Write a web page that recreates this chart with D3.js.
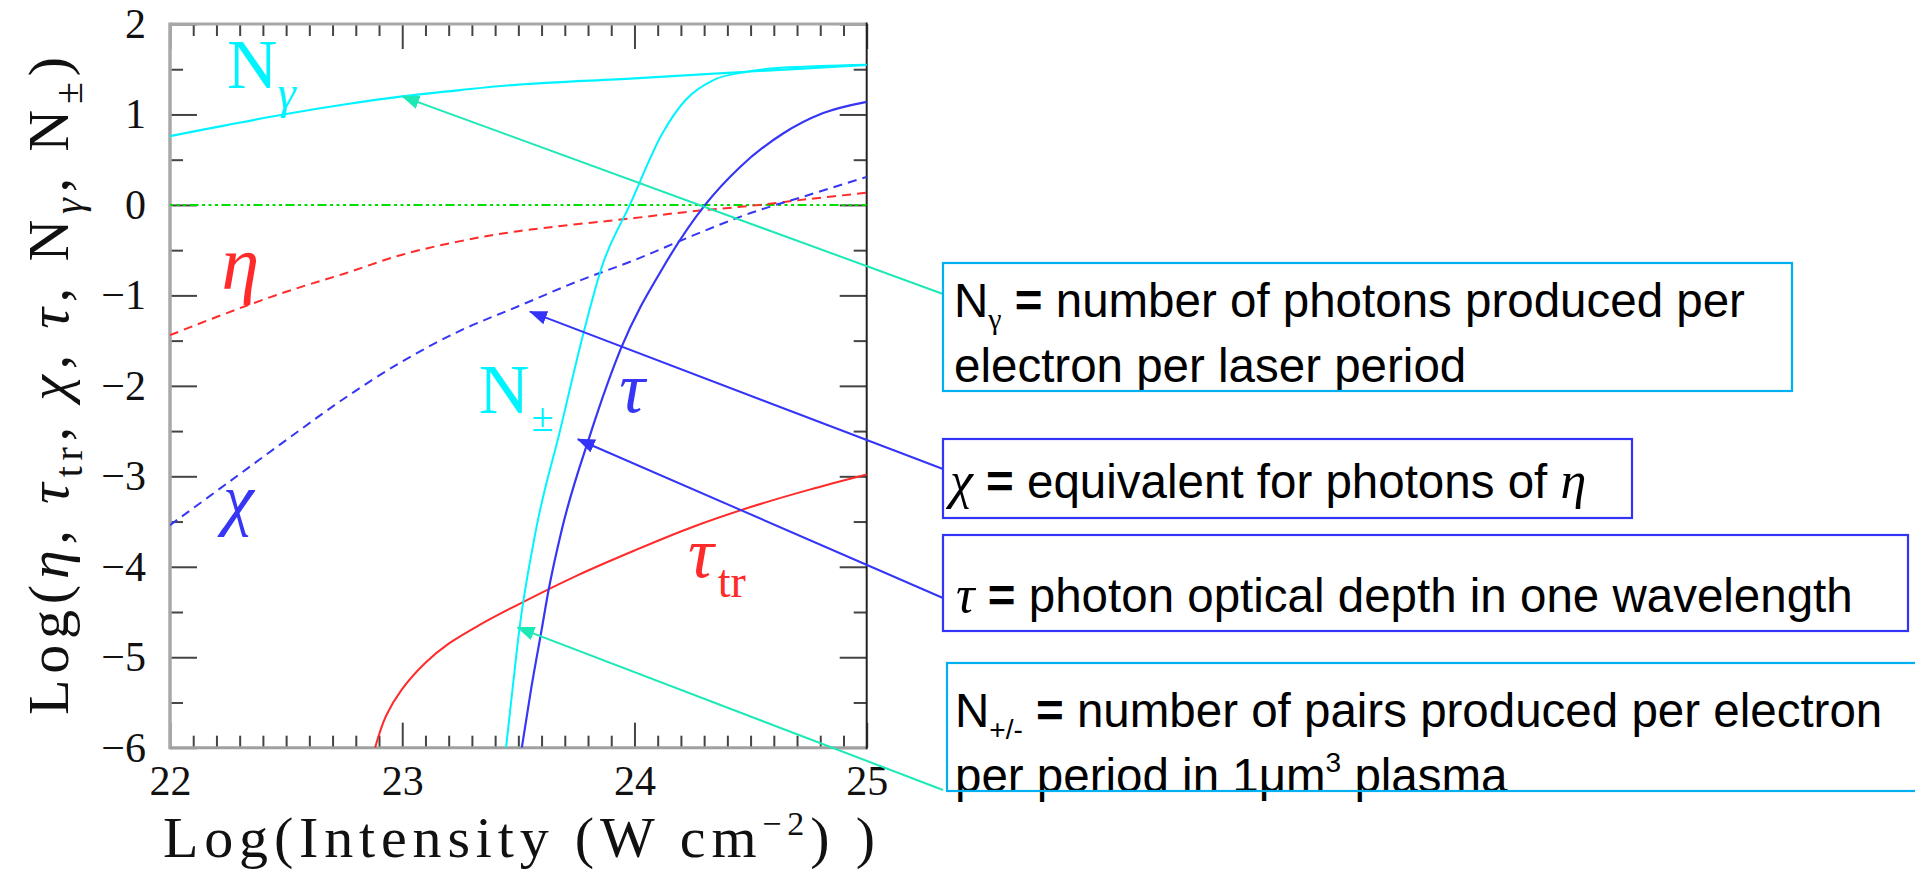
<!DOCTYPE html>
<html>
<head>
<meta charset="utf-8">
<script src="https://cdn.jsdelivr.net/npm/d3@7"></script>
<style>
  html, body { margin: 0; padding: 0; background: #fff; overflow: hidden; }
  svg { display: block; }
</style>
</head>
<body>
<svg id="chart" width="1915" height="869"></svg>
<script>
// ---- data: [log10 intensity (W cm^-2), log10 value] ----
const nGamma = [[22, 0.76], [22.25, 0.885], [22.5, 1.005], [22.75, 1.11], [23, 1.2],
  [23.25, 1.27], [23.5, 1.33], [24, 1.4], [24.5, 1.475], [25, 1.547]];
const nPairs = [[23.447, -6], [23.475, -5.35], [23.504, -4.7], [23.576, -3.59], [23.68, -2.49],
  [23.78, -1.42], [23.86, -0.68], [23.98, 0], [24.12, 0.79], [24.22, 1.16], [24.34, 1.38],
  [24.48, 1.47], [24.6, 1.51], [24.8, 1.535], [25, 1.55]];
const tau = [[23.515, -6], [23.555, -5.35], [23.6, -4.7], [23.63, -4.26], [23.687, -3.59],
  [23.808, -2.55], [23.945, -1.567], [24.125, -0.683], [24.304, 0], [24.455, 0.42],
  [24.64, 0.79], [24.81, 1.013], [25, 1.14]];
const tauTr = [[22.883, -6], [22.93, -5.65], [23, -5.35], [23.1, -5.06], [23.2, -4.85],
  [23.335, -4.64], [23.52, -4.39], [23.75, -4.1], [24, -3.82], [24.25, -3.56],
  [24.5, -3.34], [24.75, -3.15], [25, -2.98]];
const eta = [[22, -1.44], [22.25, -1.19], [22.5, -0.96], [22.75, -0.76], [23, -0.55],
  [23.25, -0.4], [23.5, -0.29], [24, -0.145], [24.25, -0.07], [24.5, -0.01], [24.75, 0.065], [25, 0.135]];
const chi = [[22, -3.54], [22.25, -3.07], [22.5, -2.6], [22.75, -2.14], [23, -1.73],
  [23.25, -1.39], [23.5, -1.12], [23.75, -0.85], [24, -0.61], [24.25, -0.34],
  [24.5, -0.09], [24.75, 0.11], [25, 0.31]];
const unity = [[22, 0], [25, 0]];

const xMajorTicks = [22, 23, 24, 25];
const yMajorTicks = [-6, -5, -4, -3, -2, -1, 0, 1, 2];

// points on the curves that each callout arrow points at
const calloutTips = [[23.0, 1.2], [23.55, -1.18], [23.756, -2.59], [23.496, -4.67]];

// ---- layout ----
const svg = d3.select("#chart");
const P = { left: 170, top: 24, right: 866.7, bottom: 747.7 };
const x = d3.scaleLinear().domain([22, 25]).range([P.left, P.right]);
const y = d3.scaleLinear().domain([-6, 2]).range([P.bottom, P.top]);

const SERIF = "'Liberation Serif', 'DejaVu Serif', serif";
const SANS = "'Liberation Sans', Arial, sans-serif";
const C = {
  cyan: "#00f4ff", blue: "#3636f4", red: "#ff2a2a", green: "#00dd00",
  teal: "#1de9b6", boxCyan: "#00b0f0", boxBlue: "#3434f8"
};

const xMinor = d3.range(0, 31).filter(i => i % 10 !== 0).map(i => 22 + i / 10);
const yMinor = d3.range(-6, 2, 1).map(v => v + 0.5);

function styleAxis(g) {
  g.select(".domain").remove();
  g.selectAll("line").attr("stroke", "#444").attr("stroke-width", 2);
  g.selectAll("text").attr("font-family", SERIF).attr("font-size", 42).attr("fill", "#111");
}

// bottom axis
svg.append("g").attr("transform", `translate(0,${P.bottom})`)
  .call(d3.axisBottom(x).tickValues(xMinor).tickSize(-12).tickFormat("")).call(styleAxis);
svg.append("g").attr("transform", `translate(0,${P.bottom})`)
  .call(d3.axisBottom(x).tickValues(xMajorTicks).tickSize(-25).tickPadding(17).tickFormat(d3.format("d")))
  .call(styleAxis);
// top axis
svg.append("g").attr("transform", `translate(0,${P.top})`)
  .call(d3.axisTop(x).tickValues(xMinor).tickSize(-12).tickFormat("")).call(styleAxis);
svg.append("g").attr("transform", `translate(0,${P.top})`)
  .call(d3.axisTop(x).tickValues(xMajorTicks).tickSize(-25).tickFormat("")).call(styleAxis);
// left axis
svg.append("g").attr("transform", `translate(${P.left},0)`)
  .call(d3.axisLeft(y).tickValues(yMinor).tickSize(-13).tickFormat("")).call(styleAxis);
svg.append("g").attr("transform", `translate(${P.left},0)`)
  .call(d3.axisLeft(y).tickValues(yMajorTicks).tickSize(-27).tickPadding(24).tickFormat(d3.format("d")))
  .call(styleAxis);
// right axis
svg.append("g").attr("transform", `translate(${P.right},0)`)
  .call(d3.axisRight(y).tickValues(yMinor).tickSize(-13).tickFormat("")).call(styleAxis);
svg.append("g").attr("transform", `translate(${P.right},0)`)
  .call(d3.axisRight(y).tickValues(yMajorTicks).tickSize(-27).tickFormat("")).call(styleAxis);

// frame
const frame = svg.append("g");
frame.append("line").attr("x1", P.left).attr("x2", P.left).attr("y1", P.top - 1.5).attr("y2", P.bottom + 1.5)
  .attr("stroke", "#a8a8a8").attr("stroke-width", 3.5);
frame.append("line").attr("x1", P.left).attr("x2", P.right).attr("y1", P.top).attr("y2", P.top)
  .attr("stroke", "#a8a8a8").attr("stroke-width", 3);
frame.append("line").attr("x1", P.left).attr("x2", P.right).attr("y1", P.bottom).attr("y2", P.bottom)
  .attr("stroke", "#a0a0a0").attr("stroke-width", 3);
frame.append("line").attr("x1", P.right).attr("x2", P.right).attr("y1", P.top - 1.5).attr("y2", P.bottom + 1.5)
  .attr("stroke", "#222").attr("stroke-width", 2);

// curves
svg.append("clipPath").attr("id", "plotClip").append("rect")
  .attr("x", P.left).attr("y", P.top).attr("width", P.right - P.left).attr("height", P.bottom - P.top);
const smooth = d3.line().x(d => x(d[0])).y(d => y(d[1])).curve(d3.curveCatmullRom.alpha(0.5));
const steep = d3.line().x(d => x(d[0])).y(d => y(d[1])).curve(d3.curveMonotoneX);
const curves = svg.append("g").attr("clip-path", "url(#plotClip)").attr("fill", "none");
const series = [
  { data: unity, gen: smooth, color: C.green, dash: "3,3.5,3,3.5,3,3.5,9,3.5", w: 2 },
  { data: eta, gen: smooth, color: C.red, dash: "9,6", w: 2 },
  { data: chi, gen: smooth, color: C.blue, dash: "9,6", w: 2 },
  { data: tauTr, gen: smooth, color: C.red, dash: null, w: 2 },
  { data: nGamma, gen: smooth, color: C.cyan, dash: null, w: 2.2 },
  { data: nPairs, gen: steep, color: C.cyan, dash: null, w: 2 },
  { data: tau, gen: steep, color: C.blue, dash: null, w: 2.2 }
];
series.forEach(s => {
  curves.append("path").attr("d", s.gen(s.data)).attr("stroke", s.color)
    .attr("stroke-width", s.w).attr("stroke-dasharray", s.dash);
});

// curve labels
const labels = svg.append("g").attr("font-family", SERIF);
function curveLabel(px, py, color) {
  return labels.append("text").attr("x", px).attr("y", py).attr("fill", color).attr("font-size", 70);
}
let t = curveLabel(x(22.245), y(1.293), C.cyan);
t.append("tspan").text("N");
t.append("tspan").attr("font-style", "italic").attr("font-size", 46).attr("dx", 0).attr("dy", 20).text("γ");

t = curveLabel(x(22.222), y(-0.93), C.red);
t.append("tspan").attr("font-style", "italic").attr("font-size", 76).text("η");

t = curveLabel(x(22.228), y(-3.5), C.blue);
t.append("tspan").attr("font-style", "italic").attr("font-size", 70).text("χ");

t = curveLabel(x(23.33), y(-2.3), C.cyan);
t.append("tspan").text("N");
t.append("tspan").attr("font-size", 40).attr("dx", 2).attr("dy", 18).text("±");

t = curveLabel(x(23.935), y(-2.29), C.blue);
t.append("tspan").attr("font-style", "italic").attr("font-size", 72).text("τ");

t = curveLabel(x(24.23), y(-4.113), C.red);
t.append("tspan").attr("font-style", "italic").attr("font-size", 72).text("τ");
t.append("tspan").attr("font-size", 46).attr("dx", 4).attr("dy", 20).text("tr");

// axis titles
const xt = svg.append("text").attr("x", 163).attr("y", 857)
  .attr("font-family", SERIF).attr("font-size", 58).attr("fill", "#111")
  .attr("textLength", 712).attr("lengthAdjust", "spacing");
xt.append("tspan").text("Log(Intensity (W cm");
xt.append("tspan").attr("font-size", 34).attr("dy", -22).text("−2");
xt.append("tspan").attr("dy", 22).text(") )");

const yt = svg.append("text").attr("transform", "translate(68,715) rotate(-90)")
  .attr("font-family", SERIF).attr("font-size", 58).attr("fill", "#111")
  .attr("textLength", 658).attr("lengthAdjust", "spacing");
yt.append("tspan").text("Log(");
yt.append("tspan").attr("font-style", "italic").text("η");
yt.append("tspan").text(", ");
yt.append("tspan").attr("font-style", "italic").text("τ");
yt.append("tspan").attr("font-size", 40).attr("dy", 14).text("tr");
yt.append("tspan").attr("dy", -14).text(", ");
yt.append("tspan").attr("font-style", "italic").text("χ");
yt.append("tspan").text(", ");
yt.append("tspan").attr("font-style", "italic").text("τ");
yt.append("tspan").text(", N");
yt.append("tspan").attr("font-style", "italic").attr("font-size", 40).attr("dy", 14).text("γ");
yt.append("tspan").attr("dy", -14).text(", N");
yt.append("tspan").attr("font-size", 40).attr("dy", 14).text("±");
yt.append("tspan").attr("dy", -14).text(")");

// callout arrows: filled heads whose tip sits on the curve
const defs = svg.append("defs");
[["tealHead", C.teal], ["blueHead", C.boxBlue]].forEach(([id, col]) => {
  defs.append("marker").attr("id", id).attr("markerUnits", "userSpaceOnUse")
    .attr("viewBox", "0 0 18 14").attr("refX", 17).attr("refY", 7)
    .attr("markerWidth", 18).attr("markerHeight", 14).attr("orient", "auto")
    .append("path").attr("d", "M0,0 L18,7 L0,14 Z").attr("fill", col);
});
const arrowStarts = [[943, 294], [943, 469], [943, 598], [943, 790]];
const arrowStyle = [["tealHead", C.teal], ["blueHead", C.boxBlue], ["blueHead", C.boxBlue], ["tealHead", C.teal]];
calloutTips.forEach((tip, i) => {
  svg.append("line")
    .attr("x1", arrowStarts[i][0]).attr("y1", arrowStarts[i][1])
    .attr("x2", x(tip[0])).attr("y2", y(tip[1]))
    .attr("stroke", arrowStyle[i][1]).attr("stroke-width", 2)
    .attr("marker-end", `url(#${arrowStyle[i][0]})`);
});

// callout boxes
const notes = svg.append("g").attr("font-family", SANS).attr("font-size", 47.5).attr("fill", "#000");
function box(x0, y0, x1, y1, col) {
  svg.append("rect").attr("x", x0).attr("y", y0).attr("width", x1 - x0).attr("height", y1 - y0)
    .attr("fill", "none").attr("stroke", col).attr("stroke-width", 2.2);
}

let n = notes.append("text").attr("x", 954).attr("y", 317);
n.append("tspan").text("N");
n.append("tspan").attr("font-family", SERIF).attr("font-size", 30).attr("dy", 12).text("γ");
n.append("tspan").attr("dy", -12).attr("font-weight", "bold").text(" = ");
n.append("tspan").text("number of photons produced per");
notes.append("text").attr("x", 954).attr("y", 382).text("electron per laser period");
box(943, 263, 1792, 391, C.boxCyan);

n = notes.append("text").attr("x", 950).attr("y", 498);
n.append("tspan").attr("font-family", SERIF).attr("font-style", "italic").attr("font-size", 52).text("χ");
n.append("tspan").attr("font-weight", "bold").text(" = ");
n.append("tspan").text("equivalent for photons of ");
n.append("tspan").attr("font-family", SERIF).attr("font-style", "italic").attr("font-size", 52).text("η");
box(943, 439, 1632, 518, C.boxBlue);

n = notes.append("text").attr("x", 956).attr("y", 612);
n.append("tspan").attr("font-family", SERIF).attr("font-style", "italic").attr("font-size", 52).text("τ");
n.append("tspan").attr("font-weight", "bold").text(" = ");
n.append("tspan").text("photon optical depth in one wavelength");
box(943, 535, 1908, 631, C.boxBlue);

n = notes.append("text").attr("x", 955).attr("y", 727);
n.append("tspan").text("N");
n.append("tspan").attr("font-size", 28).attr("dy", 12).text("+/-");
n.append("tspan").attr("dy", -12).attr("font-weight", "bold").text(" = ");
n.append("tspan").text("number of pairs produced per electron");
n = notes.append("text").attr("x", 955).attr("y", 792);
n.append("tspan").text("per period in 1μm");
n.append("tspan").attr("font-size", 28).attr("dy", -20).text("3");
n.append("tspan").attr("dy", 20).text(" plasma");
box(947, 663, 1935, 791, C.boxCyan);
</script>
</body>
</html>
